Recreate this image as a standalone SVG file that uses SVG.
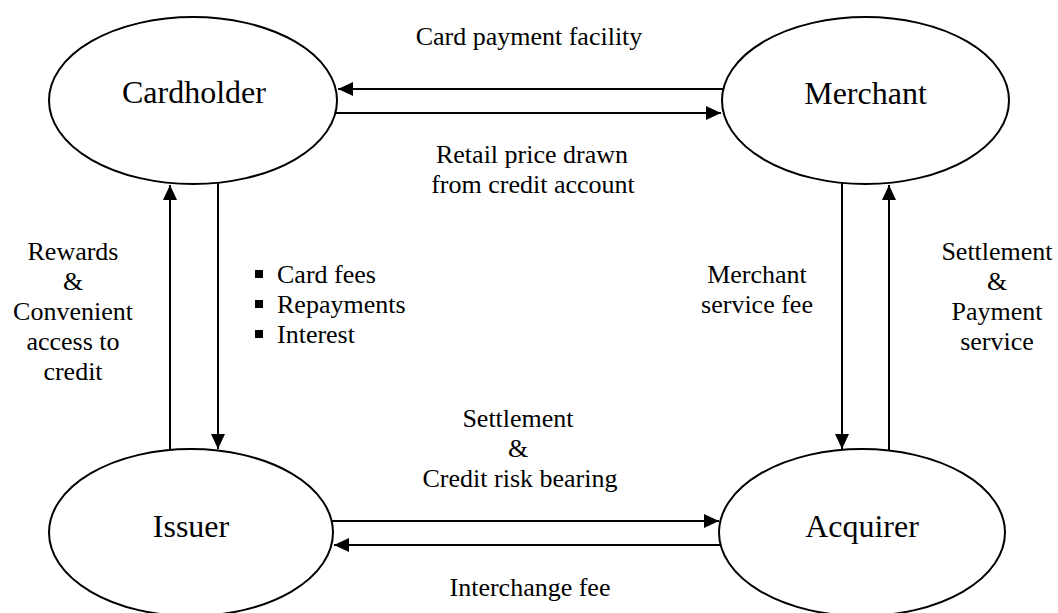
<svg xmlns="http://www.w3.org/2000/svg" width="1058" height="613" viewBox="0 0 1058 613">
<defs>
<style>
.node{fill:#fff;stroke:#000;stroke-width:2}
.conn{stroke:#000;stroke-width:2;fill:none}
.nl{font-family:"Liberation Serif","Times New Roman",serif;font-size:32px;fill:#000;text-anchor:middle}
.lb{font-family:"Liberation Serif","Times New Roman",serif;font-size:26px;fill:#000;text-anchor:middle}
.lbs{font-family:"Liberation Serif","Times New Roman",serif;font-size:26px;fill:#000}
</style>
<marker id="ah" markerUnits="userSpaceOnUse" markerWidth="15" markerHeight="14" refX="15" refY="7" orient="auto">
<path d="M0,0 L15,7 L0,14 z" fill="#000"/>
</marker>
</defs>
<rect width="1058" height="613" fill="#fff"/>
<g id="cardholder">
<ellipse class="node" cx="193" cy="100.5" rx="144" ry="83.5"/>
<text class="nl" x="194" y="103">Cardholder</text>
</g>
<g id="merchant">
<ellipse class="node" cx="865.5" cy="100.5" rx="143.5" ry="83.5"/>
<text class="nl" x="865.5" y="104">Merchant</text>
</g>
<g id="issuer">
<ellipse class="node" cx="191" cy="532.5" rx="142" ry="83.5"/>
<text class="nl" x="191" y="537">Issuer</text>
</g>
<g id="acquirer">
<ellipse class="node" cx="862" cy="532.5" rx="143" ry="83.5"/>
<text class="nl" x="862" y="537">Acquirer</text>
</g>
<g id="connectors">
<line class="conn" x1="723" y1="89" x2="338" y2="89" marker-end="url(#ah)"/>
<line class="conn" x1="336" y1="113" x2="721" y2="113" marker-end="url(#ah)"/>
<line class="conn" x1="170" y1="450" x2="170" y2="185" marker-end="url(#ah)"/>
<line class="conn" x1="218" y1="183" x2="218" y2="449" marker-end="url(#ah)"/>
<line class="conn" x1="842" y1="183" x2="842" y2="449" marker-end="url(#ah)"/>
<line class="conn" x1="889" y1="450" x2="889" y2="185" marker-end="url(#ah)"/>
<line class="conn" x1="332" y1="521" x2="719" y2="521" marker-end="url(#ah)"/>
<line class="conn" x1="720" y1="545" x2="334" y2="545" marker-end="url(#ah)"/>
</g>
<g id="labels">
<text class="lb" x="529" y="45">Card payment facility</text>
<text class="lb" x="532" y="163">Retail price drawn</text>
<text class="lb" x="533" y="193">from credit account</text>
<text class="lb" x="73" y="260">Rewards</text>
<text class="lb" x="73" y="290">&amp;</text>
<text class="lb" x="73" y="320">Convenient</text>
<text class="lb" x="73" y="350">access to</text>
<text class="lb" x="73" y="380">credit</text>
<rect x="255" y="270" width="8" height="8" fill="#000"/>
<rect x="255" y="300" width="8" height="8" fill="#000"/>
<rect x="255" y="330" width="8" height="8" fill="#000"/>
<text class="lbs" x="277" y="283">Card fees</text>
<text class="lbs" x="277" y="313">Repayments</text>
<text class="lbs" x="277" y="343">Interest</text>
<text class="lb" x="757" y="283">Merchant</text>
<text class="lb" x="757" y="313">service fee</text>
<text class="lb" x="997" y="260">Settlement</text>
<text class="lb" x="997" y="290">&amp;</text>
<text class="lb" x="997" y="320">Payment</text>
<text class="lb" x="997" y="350">service</text>
<text class="lb" x="518" y="427">Settlement</text>
<text class="lb" x="518" y="457">&amp;</text>
<text class="lb" x="520" y="487">Credit risk bearing</text>
<text class="lb" x="530" y="596">Interchange fee</text>
</g>
</svg>
